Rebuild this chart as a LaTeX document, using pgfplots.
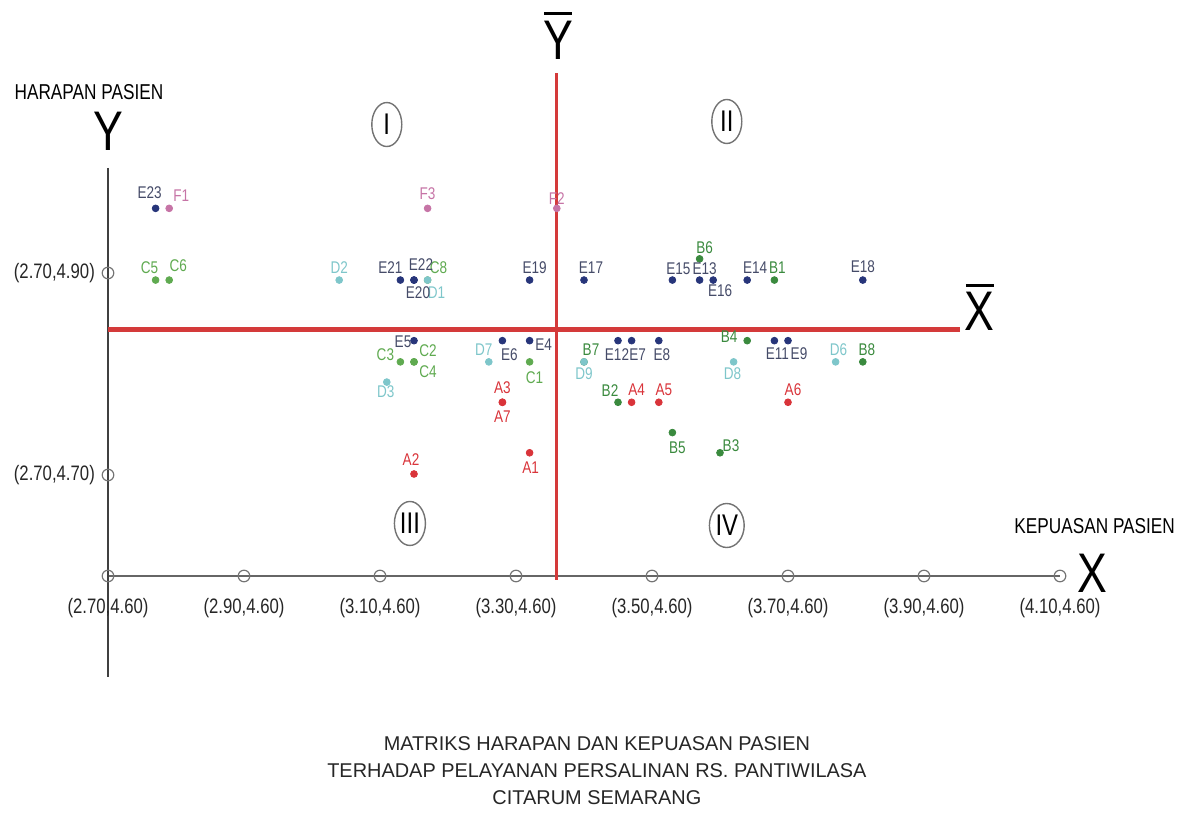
\documentclass[border=0pt]{standalone}
\usepackage{pgfplots}
\pgfplotsset{compat=1.18}
\usetikzlibrary{shapes.geometric}
\usepackage{fontspec}
\setmainfont{Liberation Sans}
\newfontfamily\narrow{Liberation Sans}[FakeStretch=0.8]

\definecolor{cA}{HTML}{D9343A}
\definecolor{cB}{HTML}{3A8A3E}
\definecolor{cC}{HTML}{5FAA50}
\definecolor{cD}{HTML}{7EC6CA}
\definecolor{cE}{HTML}{27357A}
\definecolor{cEl}{HTML}{454B68}
\definecolor{cF}{HTML}{C674A6}
\definecolor{meanred}{HTML}{D43A3A}

% x, y, label offset (dx, dy in pixels of the reference)
\pgfplotstableread{
x y dx dy lab
3.32 4.722 1 -15 A1
3.15 4.701 -3 14 A2
3.28 4.772 0 15 A3
3.47 4.772 5 13 A4
3.51 4.772 5 13 A5
3.70 4.772 5 13 A6
3.28 4.772 0 -14 A7
}\dataA
\pgfplotstableread{
x y dx dy lab
3.68 4.893 3 12 B1
3.45 4.772 -8 12 B2
3.60 4.722 11 7 B3
3.64 4.833 -18 4 B4
3.53 4.742 5 -15 B5
3.57 4.914 5 11 B6
3.40 4.812 7 12 B7
3.81 4.812 4 12 B8
}\dataB
\pgfplotstableread{
x y dx dy lab
3.32 4.812 5 -16 C1
3.15 4.812 14 11 C2
3.13 4.812 -15 7 C3
3.15 4.812 14 -10 C4
2.77 4.893 -6 12 C5
2.79 4.893 9 14 C6
3.17 4.893 11 12 C8
}\dataC
\pgfplotstableread{
x y dx dy lab
3.17 4.893 9 -13 D1
3.04 4.893 0 12 D2
3.11 4.792 -1 -10 D3
3.77 4.812 3 12 D6
3.26 4.812 -5 12 D7
3.62 4.812 -1 -12 D8
3.40 4.812 0 -12 D9
}\dataD
\pgfplotstableread{
x y dx dy lab
3.32 4.833 14 -4 E4
3.15 4.833 -11 -1 E5
3.28 4.833 7 -14 E6
3.47 4.833 6 -14 E7
3.51 4.833 3 -14 E8
3.70 4.833 11 -13 E9
3.68 4.833 3 -13 E11
3.45 4.833 -1 -14 E12
3.57 4.893 5 11 E13
3.64 4.893 8 12 E14
3.53 4.893 6 11 E15
3.59 4.893 7 -11 E16
3.40 4.893 7 12 E17
3.81 4.893 0 13 E18
3.32 4.893 5 12 E19
3.15 4.893 4 -13 E20
3.13 4.893 -10 12 E21
3.15 4.893 7 15 E22
2.77 4.964 -6 16 E23
}\dataE
\pgfplotstableread{
x y dx dy lab
2.79 4.964 12 13 F1
3.36 4.964 0 10 F2
3.17 4.964 0 15 F3
}\dataF

\pgfplotsset{
  pts/.style={only marks, mark=*, mark size=1.7pt, color=#1,
    nodes near coords, point meta=explicit symbolic,
    visualization depends on={\thisrow{dx} \as \dx},
    visualization depends on={\thisrow{dy} \as \dy},
    every node near coord/.append style={anchor=center, inner sep=0pt,
      font=\narrow\fontsize{8.5}{9}\selectfont,
      xshift={\dx*0.5bp}, yshift={\dy*0.5bp}}},
}

\begin{document}
\begin{tikzpicture}
\begin{axis}[
  scale only axis,
  width=596.5bp, height=408.5bp,
  xmin=2.54118, xmax=4.29559,
  ymin=4.36139, ymax=5.17030,
  hide axis, clip=false,
]
\path (rel axis cs:0,0) rectangle (rel axis cs:1,1);

% axes
\addplot[color=black!60, line width=1bp] coordinates {(2.70,4.600) (4.10,4.600)};
\addplot[color=black!75, line width=0.8bp] coordinates {(2.70,5.004) (2.70,4.500)};
\addplot[only marks, mark=o, mark size=2.9pt, color=black!55, mark options={line width=0.6bp}]
  coordinates {(2.70,4.60) (2.90,4.60) (3.10,4.60) (3.30,4.60) (3.50,4.60) (3.70,4.60) (3.90,4.60) (4.10,4.60) (2.70,4.70) (2.70,4.90)};

% mean lines
\addplot[color=meanred, line width=1.6bp] coordinates {(3.36,5.098) (3.36,4.596)};
\addplot[color=meanred, line width=2.2bp] coordinates {(2.70,4.844) (3.953,4.844)};

% points
\addplot[pts=cA, every node near coord/.append style={text=cA}] table[x=x, y=y, meta=lab] {\dataA};
\addplot[pts=cB, every node near coord/.append style={text=cB}] table[x=x, y=y, meta=lab] {\dataB};
\addplot[pts=cC, every node near coord/.append style={text=cC}] table[x=x, y=y, meta=lab] {\dataC};
\addplot[pts=cD, every node near coord/.append style={text=cD}] table[x=x, y=y, meta=lab] {\dataD};
\addplot[pts=cE, every node near coord/.append style={text=cEl}] table[x=x, y=y, meta=lab] {\dataE};
\addplot[pts=cF, every node near coord/.append style={text=cF}] table[x=x, y=y, meta=lab] {\dataF};

% tick labels
\foreach \t in {2.70,2.90,3.10,3.30,3.50,3.70,3.90,4.10}{
  \edef\tmp{\noexpand\node[font=\noexpand\narrow\noexpand\fontsize{10.5}{11}\noexpand\selectfont, color=black!85]
    at (axis cs:\t,4.568) {(\t,4.60)};}\tmp
}
\node[font=\narrow\fontsize{10.5}{11}\selectfont, color=black!85, anchor=east] at (axis cs:2.691,4.90) {(2.70,4.90)};
\node[font=\narrow\fontsize{10.5}{11}\selectfont, color=black!85, anchor=east] at (axis cs:2.691,4.70) {(2.70,4.70)};

% axis names
\node[font=\narrow\fontsize{10.8}{11}\selectfont] at (axis cs:2.672,5.079) {HARAPAN PASIEN};
\node[font=\narrow\fontsize{28}{28}\selectfont] at (axis cs:2.70,5.040) {Y};
\node[font=\narrow\fontsize{10.8}{11}\selectfont] at (axis cs:4.151,4.649) {KEPUASAN PASIEN};
\node[font=\narrow\fontsize{28}{28}\selectfont] at (axis cs:4.148,4.603) {X};
\node[font=\narrow\fontsize{28}{28}\selectfont, align=center, inner sep=0pt] at (axis cs:3.362,5.135)
  {\rule{14bp}{1.6bp}\\[-6bp]Y};
\node[font=\narrow\fontsize{28}{28}\selectfont, align=center, inner sep=0pt] at (axis cs:3.982,4.866)
  {\rule{14bp}{1.6bp}\\[-6bp]X};

% quadrants
\foreach \px/\py/\q in {3.110/5.047/I, 3.610/5.050/II, 3.144/4.652/III, 3.610/4.650/IV}{
  \edef\tmp{\noexpand\node[draw=black!55, ellipse, line width=0.7bp, minimum width=15bp, minimum height=22bp, inner sep=0.5bp,
    font=\noexpand\narrow\noexpand\fontsize{15}{15}\noexpand\selectfont] at (axis cs:\px,\py) {\q};}\tmp
}

% title
\node[font=\fontsize{10}{13.5}\selectfont, align=center, color=black!85] at (axis cs:3.419,4.407)
  {MATRIKS HARAPAN DAN KEPUASAN PASIEN\\TERHADAP PELAYANAN PERSALINAN RS. PANTIWILASA\\CITARUM SEMARANG};
\end{axis}
\end{tikzpicture}
\end{document}
